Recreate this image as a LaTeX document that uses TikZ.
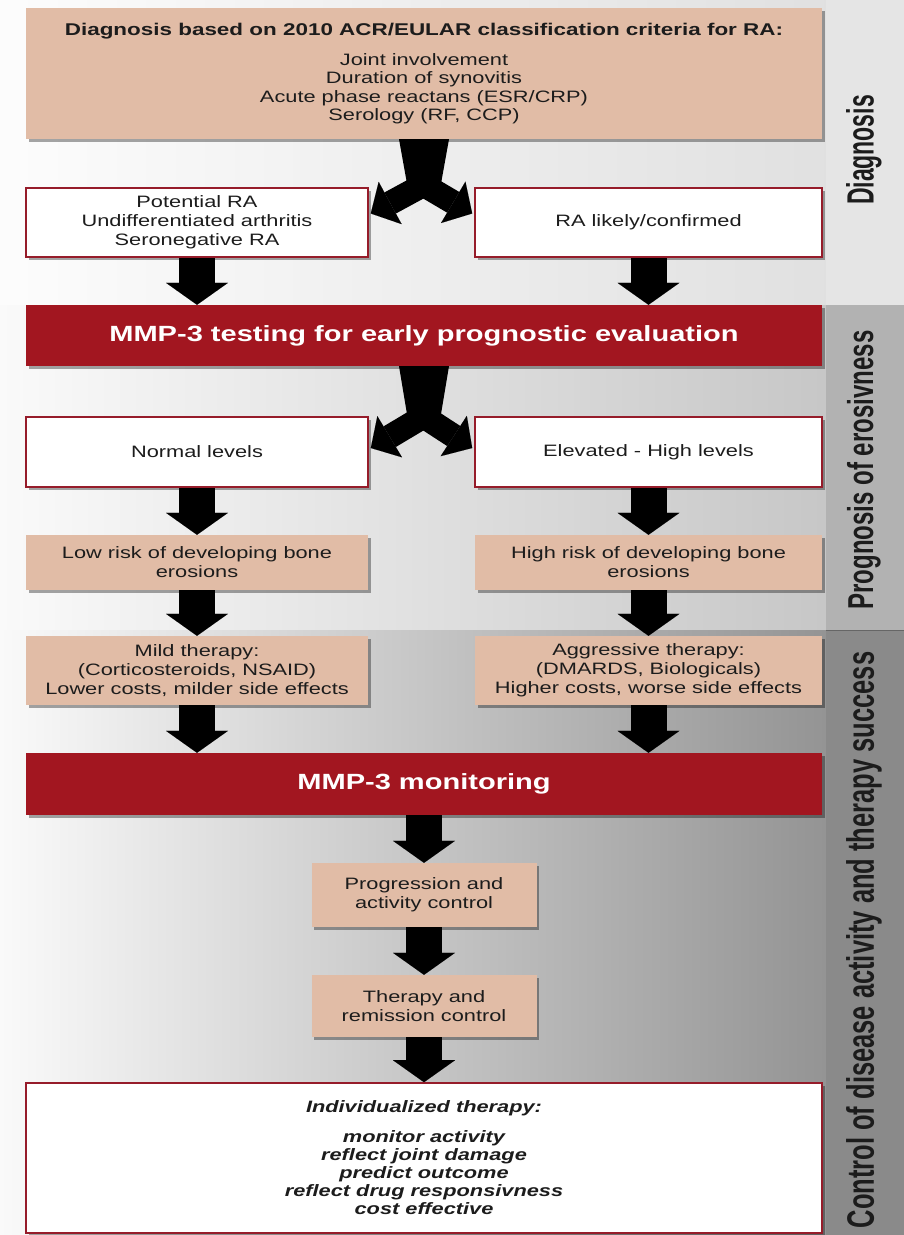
\documentclass[tikz,border=0pt]{standalone}
\usepackage{fontspec}
\setmainfont{Liberation Sans}
\newfontfamily\bodyfont[FakeStretch=1.32]{Liberation Sans}
\usetikzlibrary{arrows.meta,shadows,calc}
\pgfdeclarelayer{bglayer}
\pgfdeclarelayer{arrowlayer}
\pgfsetlayers{bglayer,arrowlayer,main}
\definecolor{tanfill}{RGB}{225,188,166}
\definecolor{barred}{RGB}{162,22,32}
\definecolor{boxred}{RGB}{150,28,42}
\definecolor{ink}{RGB}{28,28,28}
\tikzset{
  shad/.style={drop shadow={shadow xshift=2.5pt,shadow yshift=-2.5pt,opacity=0.35,fill=black}},
  tanbox/.style={shad,fill=tanfill,draw=none,text=ink,align=center,inner sep=0pt,
    font=\bodyfont\fontsize{16.5}{19}\selectfont},
  whitebox/.style={shad,fill=white,draw=boxred,line width=1.6pt,text=ink,align=center,inner sep=0pt,
    font=\bodyfont\fontsize{16.5}{19}\selectfont},
  redbar/.style={shad,fill=barred,draw=none,text=white,align=center,inner sep=0pt,
    font=\bodyfont\bfseries\fontsize{22}{24}\selectfont},
  fatarrow/.style={black,line width=36pt,-{Triangle[width=62pt,length=22pt,line width=0.01pt]}},
  armarrow/.style={black,line width=24pt,-{Triangle[width=48pt,length=22pt,line width=0.01pt]}},
  sidelabel/.style={rotate=90,text=ink,font=\bfseries},
}
\begin{document}
\begin{tikzpicture}[x=1pt,y=-1pt]
\useasboundingbox (0,0) rectangle (904,1235);
% background
\begin{pgfonlayer}{bglayer}
  \shade[left color=black!1,right color=black!12] (0,0) rectangle (826,305);
  \shade[left color=black!2,right color=black!22] (0,305) rectangle (826,630);
  \shade[left color=black!2,right color=black!42] (0,630) rectangle (826,1235);
  \fill[black!10] (826,0) rectangle (904,305);
  \fill[black!30] (826,305) rectangle (904,630);
  \fill[black!46] (826,630) rectangle (904,1235);
  \draw[black!60,line width=1pt] (826,630) -- (904,630);
\end{pgfonlayer}

% nodes
\node[tanbox,minimum width=796pt,minimum height=131pt] (diag) at (424,73.5)
  {{\bfseries\fontsize{17}{19}\selectfont Diagnosis based on 2010 ACR/EULAR classification criteria for RA:}\\[11pt]
   Joint involvement\\[-0.5pt] Duration of synovitis\\[-0.5pt] Acute phase reactans (ESR/CRP)\\[-0.5pt] Serology (RF, CCP)};
\node[whitebox,minimum width=342pt,minimum height=69pt] (pot) at (197,222.5)
  {Potential RA\\Undifferentiated arthritis\\Seronegative RA};
\node[whitebox,minimum width=347pt,minimum height=69pt] (ralike) at (648.5,222.5)
  {RA likely/confirmed};
\node[redbar,minimum width=796pt,minimum height=61pt] (mmpa) at (424,335.5)
  {MMP-3 testing for early prognostic evaluation};
\node[whitebox,minimum width=342pt,minimum height=70pt] (norm) at (197,452)
  {Normal levels};
\node[whitebox,minimum width=347pt,minimum height=70pt] (elev) at (648.5,452)
  {Elevated - High levels};
\node[tanbox,minimum width=342pt,minimum height=55pt] (low) at (197,562.5)
  {Low risk of developing bone\\erosions};
\node[tanbox,minimum width=347pt,minimum height=55pt] (high) at (648.5,562.5)
  {High risk of developing bone\\erosions};
\node[tanbox,minimum width=342pt,minimum height=69pt] (mild) at (197,670.5)
  {Mild therapy:\\(Corticosteroids, NSAID)\\Lower costs, milder side effects};
\node[tanbox,minimum width=347pt,minimum height=69pt] (aggr) at (648.5,670.5)
  {Aggressive therapy:\\(DMARDS, Biologicals)\\Higher costs, worse side effects};
\node[redbar,minimum width=796pt,minimum height=62pt] (mmpb) at (424,784)
  {MMP-3 monitoring};
\node[tanbox,minimum width=225pt,minimum height=64pt] (prog) at (424,895)
  {Progression and\\activity control};
\node[tanbox,minimum width=225pt,minimum height=62pt] (ther) at (424,1006)
  {Therapy and\\remission control};
\node[whitebox,minimum width=796pt,minimum height=150pt,
      font=\bodyfont\bfseries\itshape\fontsize{16.5}{18}\selectfont] (indiv) at (424,1158)
  {Individualized therapy:\\[12pt] monitor activity\\reflect joint damage\\predict outcome\\reflect drug responsivness\\cost effective};

% side labels
\node[sidelabel,font=\bfseries\fontsize{23}{23}\selectfont] (labA) at (864,150) {\scalebox{1}[1.65]{Diagnosis}};
\node[sidelabel,font=\bfseries\fontsize{24}{24}\selectfont] (labB) at (864,470) {\scalebox{1}[1.5]{Prognosis of erosivness}};
\node[sidelabel,font=\bfseries\fontsize{25.5}{25.5}\selectfont] (labC) at (864,940) {\scalebox{1}[1.5]{Control of disease activity and therapy success}};

% connectors
\begin{pgfonlayer}{arrowlayer}
  % split 1
  \fill[black] ($(diag.south)+(-25,0)$) -- ($(diag.south)+(25,0)$) -- ($(diag.south)+(16,50)$) -- ($(diag.south)+(-16,50)$) -- cycle;
  \draw[armarrow] ($(diag.south)+(10,40)$) -- ($(pot.east)+(2,-9)$);
  \draw[armarrow] ($(diag.south)+(-10,40)$) -- ($(ralike.west)+(-2,-9)$);
  % split 2
  \fill[black] ($(mmpa.south)+(-25,0)$) -- ($(mmpa.south)+(25,0)$) -- ($(mmpa.south)+(16,54)$) -- ($(mmpa.south)+(-16,54)$) -- cycle;
  \draw[armarrow] ($(mmpa.south)+(10,44)$) -- ($(norm.east)+(2,-4)$);
  \draw[armarrow] ($(mmpa.south)+(-10,44)$) -- ($(elev.west)+(-2,-4)$);
  % straight arrows
  \draw[fatarrow] (pot.south) -- (pot.south |- mmpa.north);
  \draw[fatarrow] (ralike.south) -- (ralike.south |- mmpa.north);
  \draw[fatarrow] (norm.south) -- (low.north);
  \draw[fatarrow] (elev.south) -- (high.north);
  \draw[fatarrow] (low.south) -- (mild.north);
  \draw[fatarrow] (high.south) -- (aggr.north);
  \draw[fatarrow] (mild.south) -- (mild.south |- mmpb.north);
  \draw[fatarrow] (aggr.south) -- (aggr.south |- mmpb.north);
  \draw[fatarrow] (mmpb.south) -- (prog.north);
  \draw[fatarrow] (prog.south) -- (ther.north);
  \draw[fatarrow] (ther.south) -- (indiv.north);
\end{pgfonlayer}
\end{tikzpicture}
\end{document}
